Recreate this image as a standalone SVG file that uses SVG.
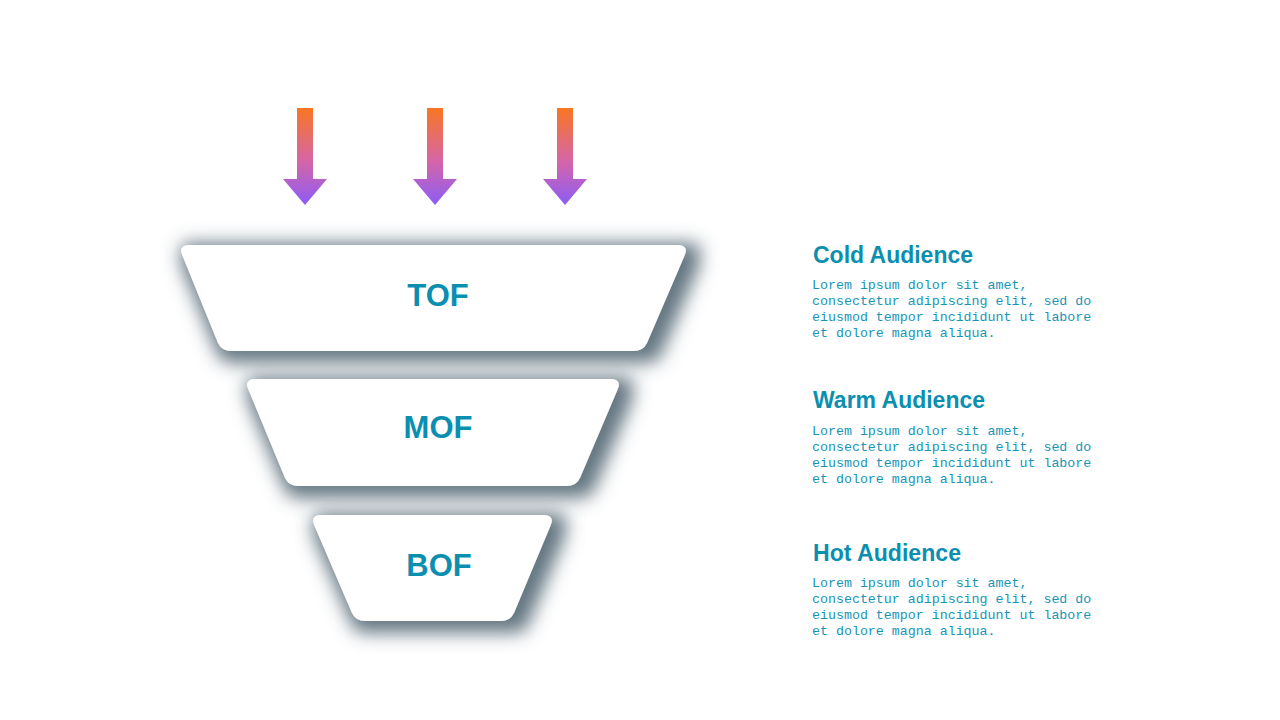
<svg xmlns="http://www.w3.org/2000/svg" width="1280" height="720" viewBox="0 0 1280 720">
<defs>
<linearGradient id="ag" x1="0" y1="0" x2="0" y2="1">
<stop offset="0" stop-color="#f97622"/>
<stop offset="0.55" stop-color="#d565a8"/>
<stop offset="1" stop-color="#8b5cf6"/>
</linearGradient>
<filter id="sh" x="-25%" y="-60%" width="160%" height="240%">
<feMorphology in="SourceAlpha" operator="dilate" radius="7" result="d"/>
<feOffset in="d" dx="7" dy="5" result="o"/>
<feGaussianBlur in="o" stdDeviation="9" result="b"/>
<feFlood flood-color="#3e5563" flood-opacity="0.8"/>
<feComposite in2="b" operator="in" result="s"/>
<feMerge><feMergeNode in="s"/><feMergeNode in="SourceGraphic"/></feMerge>
</filter>
</defs>
<style>
.stage{fill:#ffffff;filter:url(#sh)}
.lbl{font-family:"Liberation Sans",Arial,sans-serif;font-weight:bold;font-size:31px;fill:#0b8fb1;text-anchor:middle}
.hd{font-family:"Liberation Sans",Arial,sans-serif;font-weight:bold;font-size:23px;fill:#0b8fb1}
.bd{font-family:"Liberation Mono","Courier New",monospace;font-size:13.3px;fill:#1795b6}
.arr{fill:url(#ag)}
</style>
<rect width="1280" height="720" fill="#ffffff"/>
<g id="arrows">
<path class="arr" d="M297,108 H313 V179 H327 L305,205 L283,179 H297 Z"/>
<path class="arr" d="M427,108 H443 V179 H457 L435,205 L413,179 H427 Z"/>
<path class="arr" d="M557,108 H573 V179 H587 L565,205 L543,179 H557 Z"/>
</g>
<g id="tof">
<path class="stage" d="M190,245 H677 Q690,245 684,257 L647,343 Q643,351 634,351 H231 Q222,351 218,343 L183,257 Q177,245 190,245 Z"/>
<text class="lbl" x="438" y="306">TOF</text>
</g>
<g id="mof">
<path class="stage" d="M256,379 H610 Q623,379 617,391 L580,478 Q576,486 567,486 H298 Q289,486 285,478 L249,391 Q243,379 256,379 Z"/>
<text class="lbl" x="438" y="438">MOF</text>
</g>
<g id="bof">
<path class="stage" d="M322,515 H543 Q556,515 550,527 L514,613 Q510,621 501,621 H365 Q356,621 352,613 L315,527 Q309,515 322,515 Z"/>
<text class="lbl" x="439" y="576">BOF</text>
</g>
<g id="cold">
<text class="hd" x="813" y="263" textLength="160" lengthAdjust="spacingAndGlyphs">Cold Audience</text>
<text class="bd" x="812" y="289">Lorem ipsum dolor sit amet,</text>
<text class="bd" x="812" y="305">consectetur adipiscing elit, sed do</text>
<text class="bd" x="812" y="321">eiusmod tempor incididunt ut labore</text>
<text class="bd" x="812" y="337">et dolore magna aliqua.</text>
</g>
<g id="warm">
<text class="hd" x="813" y="408" textLength="172" lengthAdjust="spacingAndGlyphs">Warm Audience</text>
<text class="bd" x="812" y="435">Lorem ipsum dolor sit amet,</text>
<text class="bd" x="812" y="451">consectetur adipiscing elit, sed do</text>
<text class="bd" x="812" y="467">eiusmod tempor incididunt ut labore</text>
<text class="bd" x="812" y="483">et dolore magna aliqua.</text>
</g>
<g id="hot">
<text class="hd" x="813" y="561" textLength="148" lengthAdjust="spacingAndGlyphs">Hot Audience</text>
<text class="bd" x="812" y="587">Lorem ipsum dolor sit amet,</text>
<text class="bd" x="812" y="603">consectetur adipiscing elit, sed do</text>
<text class="bd" x="812" y="619">eiusmod tempor incididunt ut labore</text>
<text class="bd" x="812" y="635">et dolore magna aliqua.</text>
</g>
<g id="connectors"></g>
</svg>
